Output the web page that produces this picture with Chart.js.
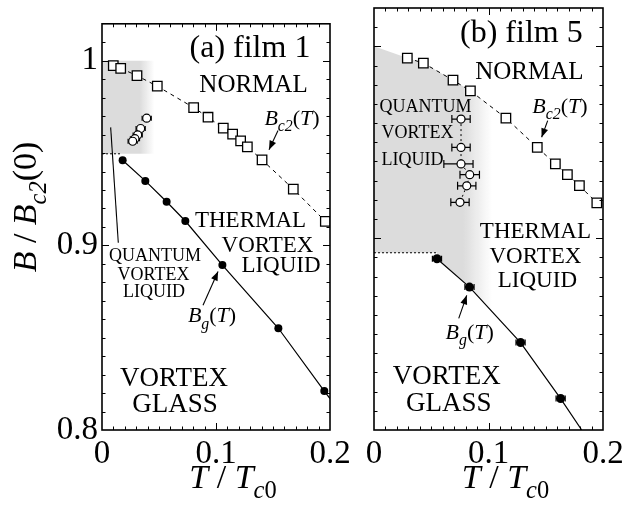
<!DOCTYPE html>
<html>
<head>
<meta charset="utf-8">
<script src="https://cdn.jsdelivr.net/npm/chart.js@4.4.0/dist/chart.umd.min.js"></script>
<style>
  html, body { margin: 0; padding: 0; background: #fff; }
  #wrap { position: relative; width: 643px; height: 505px; }
  #wrap canvas { position: absolute; left: 0; top: 0; }
</style>
</head>
<body>
<div id="wrap">
  <canvas id="filmA" width="643" height="505"></canvas>
  <canvas id="filmB" width="643" height="505"></canvas>
</div>
<script>
// axis ticks
const tTicks = [0, 0.1, 0.2];
const bTicks = [0.8, 0.9, 1];

// (a) film 1
const film1Bc2T = [0.0099, 0.0164, 0.0307, 0.0485, 0.0804, 0.0930, 0.1064, 0.1146, 0.1216, 0.1275, 0.1404, 0.1678, 0.1959];
const film1Bc2B = [0.9973, 0.9959, 0.9919, 0.9862, 0.9746, 0.9694, 0.9635, 0.9602, 0.9566, 0.9533, 0.9463, 0.9305, 0.9130];
const film1BgT = [0.0181, 0.0380, 0.0567, 0.0731, 0.1056, 0.1547, 0.1950];
const film1BgB = [0.9461, 0.9349, 0.9236, 0.9132, 0.8893, 0.8551, 0.8211];
const film1BgEnd = [0.2, 0.8170];            // where the fit line meets the frame
const film1QvlT = [0.0392, 0.0339, 0.0313, 0.0289, 0.0269];
const film1QvlB = [0.9689, 0.9633, 0.9598, 0.9578, 0.9564];
const film1QvlErr = [0.004, 0.004, 0.004, 0.004, 0.004];
const film1QvlFloorT = [0, 0.0158];          // dotted lower edge of quantum region
const film1QvlFloorB = [0.9496, 0.9496];
const film1ShadeT = [0, 0.046, 0.046, 0];
const film1ShadeB = [1.0, 1.0, 0.9496, 0.9496];

// (b) film 5
const film5Bc2T = [0.0291, 0.0431, 0.0690, 0.0842, 0.1152, 0.1426, 0.1584, 0.1689, 0.1794, 0.1946];
const film5Bc2B = [0.9939, 0.9913, 0.9824, 0.9768, 0.9626, 0.9473, 0.9387, 0.9331, 0.9274, 0.9184];
const film5BgT = [0.0550, 0.0834, 0.1280, 0.1630];
const film5BgB = [0.8893, 0.8745, 0.8456, 0.8164];
const film5BgErr = [0.004, 0.004, 0.004, 0.004];
const film5BgEnd = [0.1814, 0.8];
const film5QvlT = [0.0760, 0.0760, 0.0760, 0.0836, 0.0810, 0.0751];
const film5QvlB = [0.9621, 0.9473, 0.9387, 0.9331, 0.9273, 0.9187];
const film5QvlErrLo = [0.008, 0.008, 0.015, 0.0085, 0.008, 0.008];
const film5QvlErrHi = [0.008, 0.008, 0.0105, 0.0085, 0.008, 0.008];
const film5QvlFloorT = [0, 0.055];
const film5QvlFloorB = [0.8924, 0.8924];
const film5ShadeT = [0, 0.0291, 0.0431, 0.0690, 0.0842, 0.1152, 0.1152, 0.0834, 0.0550, 0.0550, 0];
const film5ShadeB = [1.0, 0.9939, 0.9913, 0.9824, 0.9768, 0.9626, 0.8537, 0.8745, 0.8893, 0.8924, 0.8924];

const FONT = '"Liberation Serif", "Times New Roman", serif';
const SHADE = '#dcdcdc';

function zip(xs, ys) {
  return xs.map((x, i) => ({ x: x, y: ys[i] }));
}

function fmt(v) {
  return v === 0 ? '0' : String(+v.toFixed(2));
}

// text with italic / subscript parts, e.g. B_c2(T)
function richText(ctx, parts, x, y, size, align, rot) {
  const fontOf = p => (p.i ? 'italic ' : '') + (p.sub ? size * 0.72 : size) + 'px ' + FONT;
  let w = 0;
  parts.forEach(p => { ctx.font = fontOf(p); p.w = ctx.measureText(p.t).width; w += p.w; });
  ctx.save();
  ctx.translate(x, y);
  if (rot) ctx.rotate(rot);
  ctx.fillStyle = '#000';
  ctx.textAlign = 'left';
  ctx.textBaseline = 'alphabetic';
  let cx = align === 'left' ? 0 : align === 'right' ? -w : -w / 2;
  parts.forEach(p => {
    ctx.font = fontOf(p);
    ctx.fillText(p.t, cx, p.sub ? size * 0.3 : 0);
    cx += p.w;
  });
  ctx.restore();
}

const BC2 = [{ t: 'B', i: true }, { t: 'c2', i: true, sub: true }, { t: '(' }, { t: 'T', i: true }, { t: ')' }];
const BG = [{ t: 'B', i: true }, { t: 'g', i: true, sub: true }, { t: '(' }, { t: 'T', i: true }, { t: ')' }];
const XTITLE = [{ t: 'T', i: true }, { t: ' / ' }, { t: 'T', i: true }, { t: 'c', i: true, sub: true }, { t: '0', sub: true }];
const YTITLE = [{ t: 'B', i: true }, { t: ' / ' }, { t: 'B', i: true }, { t: 'c2', i: true, sub: true }, { t: '(0)' }];

function arrow(ctx, x1, y1, x2, y2, head) {
  ctx.beginPath();
  ctx.moveTo(x1, y1);
  ctx.lineTo(x2, y2);
  ctx.stroke();
  if (!head) return;
  const a = Math.atan2(y2 - y1, x2 - x1);
  ctx.beginPath();
  ctx.moveTo(x2, y2);
  ctx.lineTo(x2 - 9 * Math.cos(a) + 3.5 * Math.sin(a), y2 - 9 * Math.sin(a) - 3.5 * Math.cos(a));
  ctx.lineTo(x2 - 9 * Math.cos(a) - 3.5 * Math.sin(a), y2 - 9 * Math.sin(a) + 3.5 * Math.cos(a));
  ctx.closePath();
  ctx.fill();
}

function panelPlugin(p) {
  return {
    id: 'panel',
    beforeDatasetsDraw(chart) {
      const { ctx, scales: { x, y } } = chart;
      // shaded quantum liquid region
      ctx.save();
      const g = ctx.createLinearGradient(x.getPixelForValue(p.fade[0]), 0, x.getPixelForValue(p.fade[1]), 0);
      g.addColorStop(0, SHADE);
      g.addColorStop(1, 'rgba(220,220,220,0)');
      ctx.fillStyle = g;
      ctx.beginPath();
      p.shadeT.forEach((t, i) => {
        const px = x.getPixelForValue(t), py = y.getPixelForValue(p.shadeB[i]);
        i ? ctx.lineTo(px, py) : ctx.moveTo(px, py);
      });
      ctx.closePath();
      ctx.fill();
      // horizontal error bars
      ctx.strokeStyle = '#000';
      ctx.lineWidth = 1.2;
      p.errBars.forEach(e => {
        e.T.forEach((t, i) => {
          const x1 = x.getPixelForValue(t - e.lo[i]), x2 = x.getPixelForValue(t + e.hi[i]);
          const py = y.getPixelForValue(e.B[i]);
          ctx.beginPath();
          ctx.moveTo(x1, py); ctx.lineTo(x2, py);
          ctx.moveTo(x1, py - e.cap); ctx.lineTo(x1, py + e.cap);
          ctx.moveTo(x2, py - e.cap); ctx.lineTo(x2, py + e.cap);
          ctx.stroke();
        });
      });
      ctx.restore();
    },
    afterDatasetsDraw(chart) {
      const { ctx, chartArea: a, scales: { x, y } } = chart;
      ctx.save();
      ctx.strokeStyle = '#000';
      ctx.lineWidth = 1;
      ctx.beginPath();
      for (let i = 1; i < 20; i++) {
        const px = Math.round(x.getPixelForValue(i / 100)) + 0.5;
        const len = i % 10 === 0 ? 7 : 3.5;
        ctx.moveTo(px, a.bottom); ctx.lineTo(px, a.bottom - len);
        ctx.moveTo(px, a.top); ctx.lineTo(px, a.top + len);
      }
      for (let i = 81; i <= 101; i++) {
        const py = Math.round(y.getPixelForValue(i / 100)) + 0.5;
        const len = i % 10 === 0 ? 7 : 3.5;
        ctx.moveTo(a.left, py); ctx.lineTo(a.left + len, py);
        ctx.moveTo(a.right, py); ctx.lineTo(a.right - len, py);
      }
      ctx.stroke();
      ctx.lineWidth = 1.6;
      ctx.strokeRect(a.left, a.top, a.right - a.left, a.bottom - a.top);
      ctx.restore();
    },
    afterDraw(chart) {
      const { ctx, chartArea: a, scales: { x, y } } = chart;
      ctx.save();
      ctx.fillStyle = '#000';
      ctx.strokeStyle = '#000';
      ctx.lineWidth = 1.1;
      p.labels.forEach(l => {
        const parts = typeof l.text === 'string' ? [{ t: l.text }] : l.text;
        richText(ctx, parts, x.getPixelForValue(l.x), y.getPixelForValue(l.y), l.size, l.align || 'center');
      });
      p.arrows.forEach(r => {
        arrow(ctx, x.getPixelForValue(r[0]), y.getPixelForValue(r[1]),
          x.getPixelForValue(r[2]), y.getPixelForValue(r[3]), r[4] !== false);
      });
      richText(ctx, XTITLE, (a.left + a.right) / 2 + 17, a.bottom + 58, 34, 'center');
      if (p.yTitle) richText(ctx, YTITLE, 36, 207, 34, 'center', -Math.PI / 2);
      ctx.restore();
    }
  };
}

function datasets(d) {
  const n = d.bgT.length;
  return [
    {
      label: 'Bc2', data: zip(d.bc2T, d.bc2B), order: 1, showLine: true,
      borderColor: '#000', borderWidth: 1, borderDash: [4, 4],
      pointStyle: 'rect', pointRadius: 6.7, pointBackgroundColor: '#fff',
      pointBorderColor: '#000', pointBorderWidth: 1.3
    },
    {
      label: 'Bg', data: zip(d.bgT.concat([d.bgEnd[0]]), d.bgB.concat([d.bgEnd[1]])), order: 2, showLine: true,
      borderColor: '#000', borderWidth: 1.2,
      pointRadius: c => (c.dataIndex < n ? d.bgR : 0), pointBackgroundColor: '#000',
      pointBorderColor: '#000', pointBorderWidth: 0
    },
    {
      label: 'quantum', data: zip(d.qvlT, d.qvlB), order: 0, showLine: d.qvlLine,
      borderColor: '#000', borderWidth: 1, borderDash: [2, 3],
      pointRadius: 4, pointBackgroundColor: '#fff', pointBorderColor: '#000', pointBorderWidth: 1.2
    },
    {
      label: 'floor', data: zip(d.floorT, d.floorB), order: 3, showLine: true,
      borderColor: '#000', borderWidth: 1, borderDash: [2, 2], pointRadius: 0
    }
  ];
}

function makePanel(id, d, p) {
  return new Chart(document.getElementById(id), {
    type: 'scatter',
    data: { datasets: datasets(d) },
    options: {
      responsive: false,
      animation: false,
      events: [],
      layout: { padding: { top: 7, right: p.padRight, left: 0, bottom: 0 } },
      plugins: { legend: { display: false }, tooltip: { enabled: false } },
      scales: {
        x: {
          type: 'linear', min: 0, max: 0.2,
          afterBuildTicks: s => { s.ticks = tTicks.map(v => ({ value: v })); },
          afterFit: s => { s.height = 75; },
          ticks: { color: '#000', padding: 5, maxRotation: 0, autoSkip: false, font: { family: FONT, size: 33 }, callback: fmt },
          grid: { display: false, drawTicks: false },
          border: { display: false }
        },
        y: {
          type: 'linear', min: 0.8, max: 1.02,
          afterBuildTicks: s => { s.ticks = bTicks.map(v => ({ value: v })); },
          afterFit: s => { s.width = p.left; },
          ticks: { display: p.yLabels, color: '#000', padding: 4, autoSkip: false, font: { family: FONT, size: 33 }, callback: fmt },
          grid: { display: false, drawTicks: false },
          border: { display: false }
        }
      }
    },
    plugins: [panelPlugin(p)]
  });
}

makePanel('filmA', {
  bc2T: film1Bc2T, bc2B: film1Bc2B, bgT: film1BgT, bgB: film1BgB, bgEnd: film1BgEnd, bgR: 4,
  qvlT: film1QvlT, qvlB: film1QvlB, qvlLine: false, floorT: film1QvlFloorT, floorB: film1QvlFloorB
}, {
  left: 102, padRight: 313, yLabels: true, yTitle: true,
  shadeT: film1ShadeT, shadeB: film1ShadeB, fade: [0.033, 0.046],
  errBars: [{ T: film1QvlT, B: film1QvlB, lo: film1QvlErr, hi: film1QvlErr, cap: 2.5 }],
  labels: [
    { text: '(a) film 1', x: 0.1298, y: 1.0021, size: 32 },
    { text: 'NORMAL', x: 0.1329, y: 0.9831, size: 25 },
    { text: BC2, x: 0.1667, y: 0.9654, size: 22 },
    { text: 'THERMAL', x: 0.1303, y: 0.9101, size: 23 },
    { text: 'VORTEX', x: 0.1452, y: 0.8962, size: 23 },
    { text: 'LIQUID', x: 0.1570, y: 0.8854, size: 23 },
    { text: 'QUANTUM', x: 0.0465, y: 0.8918, size: 18 },
    { text: 'VORTEX', x: 0.0452, y: 0.8811, size: 18 },
    { text: 'LIQUID', x: 0.0456, y: 0.8720, size: 18 },
    { text: BG, x: 0.0965, y: 0.8583, size: 22 },
    { text: 'VORTEX', x: 0.0632, y: 0.8238, size: 27 },
    { text: 'GLASS', x: 0.0640, y: 0.8099, size: 27 }
  ],
  arrows: [
    [0.1544, 0.9622, 0.1465, 0.9518],
    [0.0886, 0.8676, 0.1018, 0.8858],
    [0.0076, 0.9639, 0.0143, 0.9014, false]
  ]
});

makePanel('filmB', {
  bc2T: film5Bc2T, bc2B: film5Bc2B, bgT: film5BgT, bgB: film5BgB, bgEnd: film5BgEnd, bgR: 4.5,
  qvlT: film5QvlT, qvlB: film5QvlB, qvlLine: true, floorT: film5QvlFloorT, floorB: film5QvlFloorB
}, {
  left: 374, padRight: 40, yLabels: false, yTitle: false,
  shadeT: film5ShadeT, shadeB: film5ShadeB, fade: [0.078, 0.103],
  errBars: [
    { T: film5QvlT, B: film5QvlB, lo: film5QvlErrLo, hi: film5QvlErrHi, cap: 4 },
    { T: film5BgT, B: film5BgB, lo: film5BgErr, hi: film5BgErr, cap: 3 }
  ],
  labels: [
    { text: '(b) film 5', x: 0.1287, y: 1.0021, size: 32 },
    { text: 'NORMAL', x: 0.1357, y: 0.9831, size: 25 },
    { text: BC2, x: 0.1624, y: 0.9654, size: 22 },
    { text: 'QUANTUM', x: 0.0048, y: 0.9659, size: 18, align: 'left' },
    { text: 'VORTEX', x: 0.0066, y: 0.9520, size: 18, align: 'left' },
    { text: 'LIQUID', x: 0.0066, y: 0.9379, size: 18, align: 'left' },
    { text: 'THERMAL', x: 0.1410, y: 0.9002, size: 23 },
    { text: 'VORTEX', x: 0.1410, y: 0.8870, size: 23 },
    { text: 'LIQUID', x: 0.1427, y: 0.8745, size: 23 },
    { text: BG, x: 0.0836, y: 0.8477, size: 22 },
    { text: 'VORTEX', x: 0.0635, y: 0.8238, size: 27 },
    { text: 'GLASS', x: 0.0652, y: 0.8099, size: 27 }
  ],
  arrows: [
    [0.1517, 0.9613, 0.1464, 0.9526],
    [0.0740, 0.8582, 0.0810, 0.8702]
  ]
});
</script>
</body>
</html>
